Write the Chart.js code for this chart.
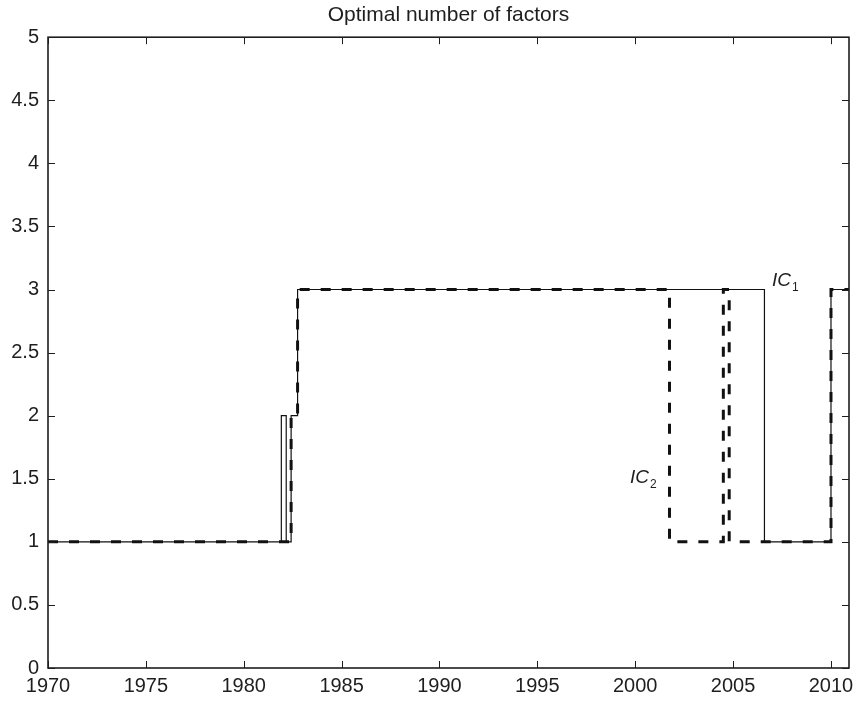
<!DOCTYPE html>
<html>
<head>
<meta charset="utf-8">
<title>Optimal number of factors</title>
<script src="https://cdn.jsdelivr.net/npm/chart.js@4.4.1/dist/chart.umd.min.js"></script>
<style>
  html, body { margin: 0; padding: 0; background: #fff; }
  #wrap { width: 856px; height: 701px; }
</style>
</head>
<body>
<div id="wrap"><canvas id="chart" width="856" height="701"></canvas></div>
<script>
// step series: year where each value starts, value held until the next year
const ic1Years = [1970, 1981.92, 1982.17, 1982.42, 1982.75, 2006.6, 2010.0, 2010.92];
const ic1Values = [1, 2, 1, 2, 3, 1, 3, 3];
const ic2Years = [1970, 1982.42, 1982.75, 2001.75, 2004.5, 2004.8, 2010.0, 2010.92];
const ic2Values = [1, 2, 3, 1, 3, 1, 3, 3];

const xTicks = [1970, 1975, 1980, 1985, 1990, 1995, 2000, 2005, 2010];
const yTicks = [0, 0.5, 1, 1.5, 2, 2.5, 3, 3.5, 4, 4.5, 5];

// in-plot series labels (IC with subscript)
const seriesLabels = [
  { name: 'IC', sub: '1', x: 2006.98, y: 3.03 },
  { name: 'IC', sub: '2', x: 1999.73, y: 1.47 }
];

const FONT = '"Liberation Sans", Arial, Helvetica, sans-serif';
const INK = '#1e1e1e';

function toPoints(xs, ys) {
  return xs.map((x, i) => ({ x: x, y: ys[i] }));
}

// matlab style box with inward ticks on all four sides
const boxFrame = {
  id: 'boxFrame',
  afterDatasetsDraw(chart) {
    const { ctx, chartArea: a, scales } = chart;
    const x = scales.x, y = scales.y;
    const len = 7;
    ctx.save();
    ctx.strokeStyle = INK;
    ctx.lineWidth = 1;
    ctx.beginPath();
    xTicks.forEach(v => {
      const px = Math.round(x.getPixelForValue(v)) + 0.5;
      ctx.moveTo(px, a.bottom); ctx.lineTo(px, a.bottom - len);
      ctx.moveTo(px, a.top); ctx.lineTo(px, a.top + len);
    });
    yTicks.forEach(v => {
      const py = Math.round(y.getPixelForValue(v)) + 0.5;
      ctx.moveTo(a.left, py); ctx.lineTo(a.left + len, py);
      ctx.moveTo(a.right, py); ctx.lineTo(a.right - len, py);
    });
    ctx.stroke();
    ctx.lineWidth = 1.6;
    ctx.strokeRect(a.left, a.top, a.right - a.left, a.bottom - a.top);

    ctx.fillStyle = INK;
    ctx.textBaseline = 'alphabetic';
    ctx.textAlign = 'left';
    seriesLabels.forEach(l => {
      const px = x.getPixelForValue(l.x);
      const py = y.getPixelForValue(l.y);
      ctx.font = 'italic 19px ' + FONT;
      ctx.fillText(l.name, px, py);
      const w = ctx.measureText(l.name).width;
      ctx.font = '12px ' + FONT;
      ctx.fillText(l.sub, px + w + 1, py + 5);
    });
    ctx.restore();
  }
};

const ctx = document.getElementById('chart').getContext('2d');
new Chart(ctx, {
  type: 'line',
  data: {
    datasets: [
      {
        label: 'IC2',
        data: toPoints(ic2Years, ic2Values),
        stepped: true,
        borderColor: '#111',
        borderWidth: 3,
        borderDash: [10, 11],
        pointRadius: 0,
        fill: false
      },
      {
        label: 'IC1',
        data: toPoints(ic1Years, ic1Values),
        stepped: true,
        borderColor: '#111',
        borderWidth: 1.2,
        pointRadius: 0,
        fill: false
      }
    ]
  },
  options: {
    responsive: false,
    animation: false,
    devicePixelRatio: 1,
    layout: { padding: { left: 0, right: 7, top: 0, bottom: 0 } },
    plugins: {
      legend: { display: false },
      tooltip: { enabled: false },
      title: {
        display: true,
        text: 'Optimal number of factors',
        fullSize: false,
        color: INK,
        font: { family: FONT, size: 21, weight: 'normal' },
        padding: { top: 3, bottom: 9 }
      }
    },
    scales: {
      x: {
        type: 'linear',
        min: 1970,
        max: 2010.92,
        grid: { display: false, drawTicks: false },
        border: { display: false },
        afterBuildTicks: s => { s.ticks = xTicks.map(v => ({ value: v })); },
        afterFit: s => { s.height = 33; s.paddingLeft = 0; s.paddingRight = 0; },
        ticks: {
          color: INK,
          padding: 6,
          maxRotation: 0,
          autoSkip: false,
          font: { family: FONT, size: 20 },
          callback: v => String(v)
        }
      },
      y: {
        min: 0,
        max: 5,
        grid: { display: false, drawTicks: false },
        border: { display: false },
        afterBuildTicks: s => { s.ticks = yTicks.map(v => ({ value: v })); },
        afterFit: s => { s.width = 48; s.paddingTop = 0; s.paddingBottom = 0; },
        ticks: {
          color: INK,
          padding: 9,
          font: { family: FONT, size: 20 },
          callback: v => String(v)
        }
      }
    }
  },
  plugins: [boxFrame]
});
</script>
</body>
</html>
